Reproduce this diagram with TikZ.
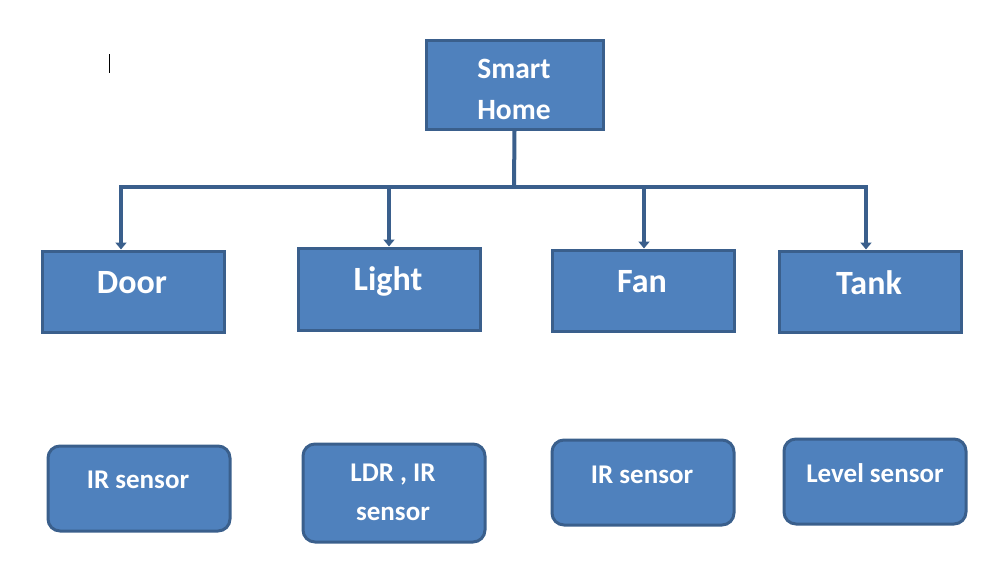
\documentclass[tikz,border=0pt]{standalone}
\usepackage{fontspec}
\setmainfont{Carlito}
\usetikzlibrary{arrows.meta}
\definecolor{boxfill}{HTML}{4F81BD}
\definecolor{boxline}{HTML}{3A5F8C}
\begin{document}
\begin{tikzpicture}[x=1pt,y=-1pt,
  sqbox/.style={draw=boxline,fill=boxfill,line width=3pt,rectangle,inner sep=0pt},
  rdbox/.style={sqbox,rounded corners=12pt},
  lbl/.style={text=white,font=\bfseries,inner sep=0pt,align=center},
  conn/.style={draw=boxline,line width=4pt},
  arr/.style={draw=boxline,line width=3.5pt,-{Triangle[width=11pt,length=7pt]}}]
\useasboundingbox (0,0) rectangle (985,568);
% cursor mark
\coordinate (c1) at (109,54);
\coordinate (c2) at (109,73);
\draw[line width=0.9pt] (c1) -- (c2);
% boxes
\node[sqbox,minimum width=177pt,minimum height=89pt] (home) at (514.5,84.5) {};
\node[sqbox,minimum width=182pt,minimum height=81pt] (door) at (133,291.5) {};
\node[sqbox,minimum width=182pt,minimum height=82pt] (light) at (389,289) {};
\node[sqbox,minimum width=182pt,minimum height=81pt] (fan) at (643,290.5) {};
\node[sqbox,minimum width=182pt,minimum height=81pt] (tank) at (870,291.5) {};
\node[rdbox,minimum width=182pt,minimum height=85pt] (s1) at (139,488.5) {};
\node[rdbox,minimum width=182pt,minimum height=98pt] (s2) at (394,493) {};
\node[rdbox,minimum width=182pt,minimum height=85pt] (s3) at (643,482.5) {};
\node[rdbox,minimum width=182pt,minimum height=85pt] (s4) at (875,481.5) {};
% labels
\node[lbl,font=\bfseries\fontsize{29.5}{41}\selectfont] (thome) at (514,89) {Smart\\Home};
\node[lbl,font=\bfseries\fontsize{34}{34}\selectfont] (tdoor) at (132,283) {Door};
\node[lbl,font=\bfseries\fontsize{34}{34}\selectfont] (tlight) at (388,281) {Light};
\node[lbl,font=\bfseries\fontsize{34}{34}\selectfont] (tfan) at (642,282) {Fan};
\node[lbl,font=\bfseries\fontsize{34}{34}\selectfont] (ttank) at (869,283) {Tank};
\node[lbl,font=\bfseries\fontsize{27}{39}\selectfont] (ts1) at (138,480) {IR sensor};
\node[lbl,font=\bfseries\fontsize{27}{39}\selectfont] (ts2) at (393,492) {LDR , IR\\sensor};
\node[lbl,font=\bfseries\fontsize{27}{39}\selectfont] (ts3) at (642,475) {IR sensor};
\node[lbl,font=\bfseries\fontsize{27}{39}\selectfont] (ts4) at (875,473) {Level sensor};
% connectors
\coordinate (j) at (514,187);
\coordinate (hl) at (121,187);
\coordinate (hr) at (866,187);
\draw[conn] (home.south) -- (j);
\draw[conn] ([xshift=-2pt]hl) -- ([xshift=2pt]hr);
\draw[arr] (121,187) -- (door.north -| 121,0);
\draw[arr] (389,187) -- (light.north -| 389,0);
\draw[arr] (644,187) -- (fan.north -| 644,0);
\draw[arr] (866,187) -- (tank.north -| 866,0);
\end{tikzpicture}
\end{document}
